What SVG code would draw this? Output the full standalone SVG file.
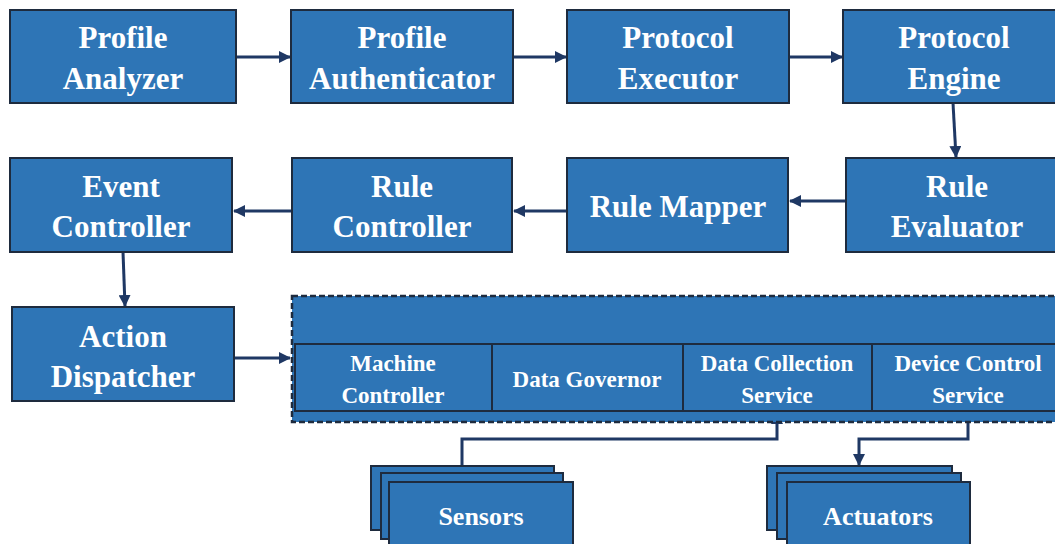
<svg xmlns="http://www.w3.org/2000/svg" width="1055" height="544" viewBox="0 0 1055 544">
<defs>
<style>
.box{fill:#2E75B6;stroke:#1E2B3E;stroke-width:2}
.cell{fill:#2E75B6;stroke:#1E2B3E;stroke-width:2}
.t{font-family:"Liberation Serif","Times New Roman",serif;font-weight:bold;fill:#FFFFFF;text-anchor:middle}
.big{font-size:31px}
.small{font-size:23px}
.mid{font-size:26px}
.c{fill:none;stroke:#1F3864;stroke-width:3}
</style>
<marker id="ah" markerUnits="userSpaceOnUse" markerWidth="12" markerHeight="12" viewBox="0 0 12 12" refX="11" refY="6" orient="auto">
<path d="M0,0 L12,6 L0,12 Z" fill="#1F3864"/>
</marker>
</defs>
<rect width="1055" height="544" fill="#FFFFFF"/>

<g id="connectors">
<line class="c" x1="236" y1="57" x2="290" y2="57" marker-end="url(#ah)"/>
<line class="c" x1="513" y1="57" x2="566" y2="57" marker-end="url(#ah)"/>
<line class="c" x1="789" y1="57" x2="842" y2="57" marker-end="url(#ah)"/>
<line class="c" x1="953" y1="103" x2="956" y2="157" marker-end="url(#ah)"/>
<line class="c" x1="847" y1="201" x2="790" y2="201" marker-end="url(#ah)"/>
<line class="c" x1="567" y1="211" x2="514" y2="211" marker-end="url(#ah)"/>
<line class="c" x1="292" y1="211" x2="234" y2="211" marker-end="url(#ah)"/>
<line class="c" x1="123" y1="252" x2="125" y2="306" marker-end="url(#ah)"/>
<line class="c" x1="234" y1="358" x2="290" y2="358" marker-end="url(#ah)"/>
<polyline class="c" points="462,466 462,439 777,439 777,413" marker-end="url(#ah)"/>
<polyline class="c" points="968,411 968,439 859,439 859,465" marker-end="url(#ah)"/>
</g>

<g id="profile-analyzer">
<rect class="box" x="10" y="10" width="226" height="93"/>
<text class="t big" x="123" y="48">Profile</text>
<text class="t big" x="123" y="89">Analyzer</text>
</g>
<g id="profile-authenticator">
<rect class="box" x="291" y="10" width="222" height="93"/>
<text class="t big" x="402" y="48">Profile</text>
<text class="t big" x="402" y="89">Authenticator</text>
</g>
<g id="protocol-executor">
<rect class="box" x="567" y="10" width="222" height="93"/>
<text class="t big" x="678" y="48">Protocol</text>
<text class="t big" x="678" y="89">Executor</text>
</g>
<g id="protocol-engine">
<rect class="box" x="843" y="10" width="222" height="93"/>
<text class="t big" x="954" y="48">Protocol</text>
<text class="t big" x="954" y="89">Engine</text>
</g>

<g id="event-controller">
<rect class="box" x="10" y="158" width="222" height="94"/>
<text class="t big" x="121" y="197">Event</text>
<text class="t big" x="121" y="237">Controller</text>
</g>
<g id="rule-controller">
<rect class="box" x="292" y="158" width="220" height="94"/>
<text class="t big" x="402" y="197">Rule</text>
<text class="t big" x="402" y="237">Controller</text>
</g>
<g id="rule-mapper">
<rect class="box" x="567" y="158" width="221" height="94"/>
<text class="t big" x="678" y="217">Rule Mapper</text>
</g>
<g id="rule-evaluator">
<rect class="box" x="846" y="158" width="222" height="94"/>
<text class="t big" x="957" y="197">Rule</text>
<text class="t big" x="957" y="237">Evaluator</text>
</g>

<g id="action-dispatcher">
<rect class="box" x="12" y="307" width="222" height="94"/>
<text class="t big" x="123" y="347">Action</text>
<text class="t big" x="123" y="387">Dispatcher</text>
</g>

<g id="platform">
<rect x="292" y="296" width="776" height="126" fill="#2E75B6" stroke="#1E2B3E" stroke-width="2.5" stroke-dasharray="6,3"/>
<rect class="cell" x="295" y="344" width="197" height="67"/>
<rect class="cell" x="492" y="344" width="191" height="67"/>
<rect class="cell" x="683" y="344" width="189" height="67"/>
<rect class="cell" x="872" y="344" width="192" height="67"/>
<text class="t small" x="393" y="371">Machine</text>
<text class="t small" x="393" y="403">Controller</text>
<text class="t small" x="587" y="387">Data Governor</text>
<text class="t small" x="777" y="371">Data Collection</text>
<text class="t small" x="777" y="403">Service</text>
<text class="t small" x="968" y="371">Device Control</text>
<text class="t small" x="968" y="403">Service</text>
</g>

<g id="sensors">
<rect class="box" x="371" y="466" width="183" height="64"/>
<rect class="box" x="381" y="473" width="182" height="66"/>
<rect class="box" x="389" y="482" width="184" height="70"/>
<text class="t mid" x="481" y="525">Sensors</text>
</g>
<g id="actuators">
<rect class="box" x="767" y="466" width="185" height="64"/>
<rect class="box" x="777" y="473" width="184" height="66"/>
<rect class="box" x="787" y="482" width="183" height="70"/>
<text class="t mid" x="878" y="525">Actuators</text>
</g>
</svg>
